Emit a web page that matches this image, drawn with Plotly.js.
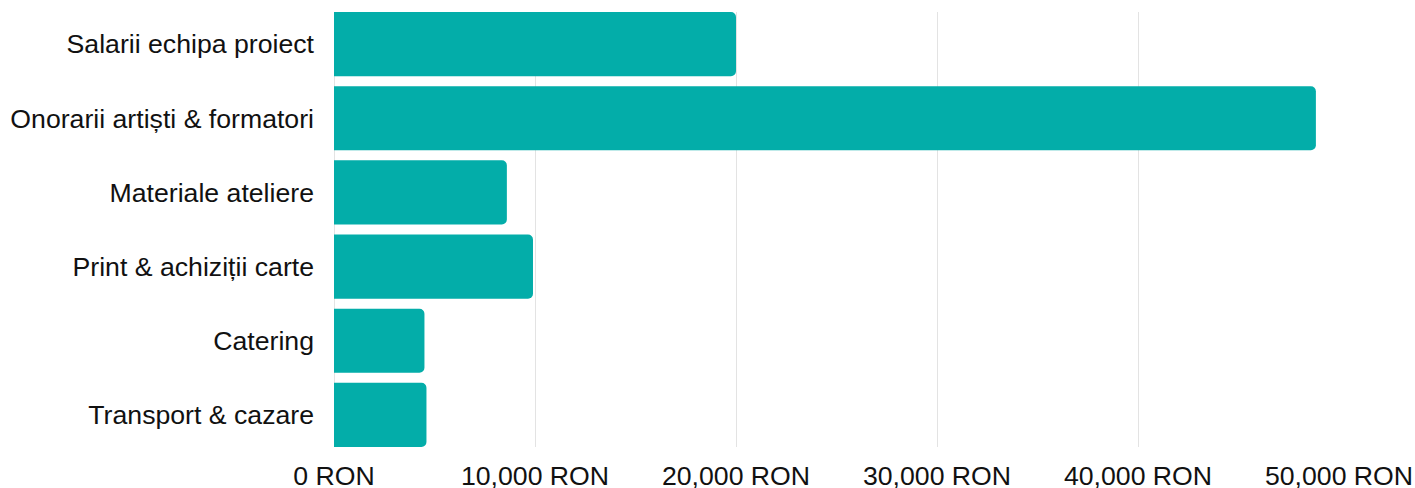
<!DOCTYPE html>
<html>
<head>
<meta charset="utf-8">
<script src="https://cdn.plot.ly/plotly-3.0.1.min.js"></script>
<style>html,body{margin:0;padding:0;background:#fff;}#chart{width:1415px;height:488px;}</style>
</head>
<body>
<div id="chart"></div>
<script>
const categories = ["Salarii echipa proiect", "Onorarii artiști & formatori", "Materiale ateliere", "Print & achiziții carte", "Catering", "Transport & cazare"];
const values = [20000, 48850, 8600, 9900, 4500, 4600];
const tickValues = [0, 10000, 20000, 30000, 40000, 50000];
const tickLabels = ["0 RON", "10,000 RON", "20,000 RON", "30,000 RON", "40,000 RON", "50,000 RON"];

const gap = 0.135;
const trace = {
  type: 'bar',
  orientation: 'h',
  y: categories,
  x: values,
  marker: {color: '#03ADA9'},
  hoverinfo: 'x+y'
};
const layout = {
  width: 1415, height: 488,
  margin: {l: 334, r: 76, t: 12, b: 41},
  paper_bgcolor: '#fff', plot_bgcolor: '#fff',
  bargap: gap,
  barcornerradius: 5,
  showlegend: false,
  font: {family: '"Liberation Sans", Arial, sans-serif', size: 26.67, color: '#111'},
  xaxis: {
    range: [0, 50000],
    tickvals: tickValues, ticktext: tickLabels,
    showgrid: true, gridcolor: '#e3e3e3', gridwidth: 1,
    zeroline: true, zerolinecolor: '#e3e3e3', zerolinewidth: 1,
    showline: false, ticks: '',
    ticklabelstandoff: 10,
    tickfont: {size: 26.67, color: '#111'},
    automargin: false
  },
  yaxis: {
    type: 'category',
    categoryorder: 'array', categoryarray: categories,
    range: [categories.length - 0.5 - gap / 2, -0.5 + gap / 2],
    showgrid: false, zeroline: false, showline: false, ticks: '',
    ticklabelstandoff: 19,
    tickfont: {size: 26.67, color: '#111'},
    automargin: false
  }
};
Plotly.newPlot('chart', [trace], layout, {displayModeBar: false, staticPlot: true});
</script>
</body>
</html>
